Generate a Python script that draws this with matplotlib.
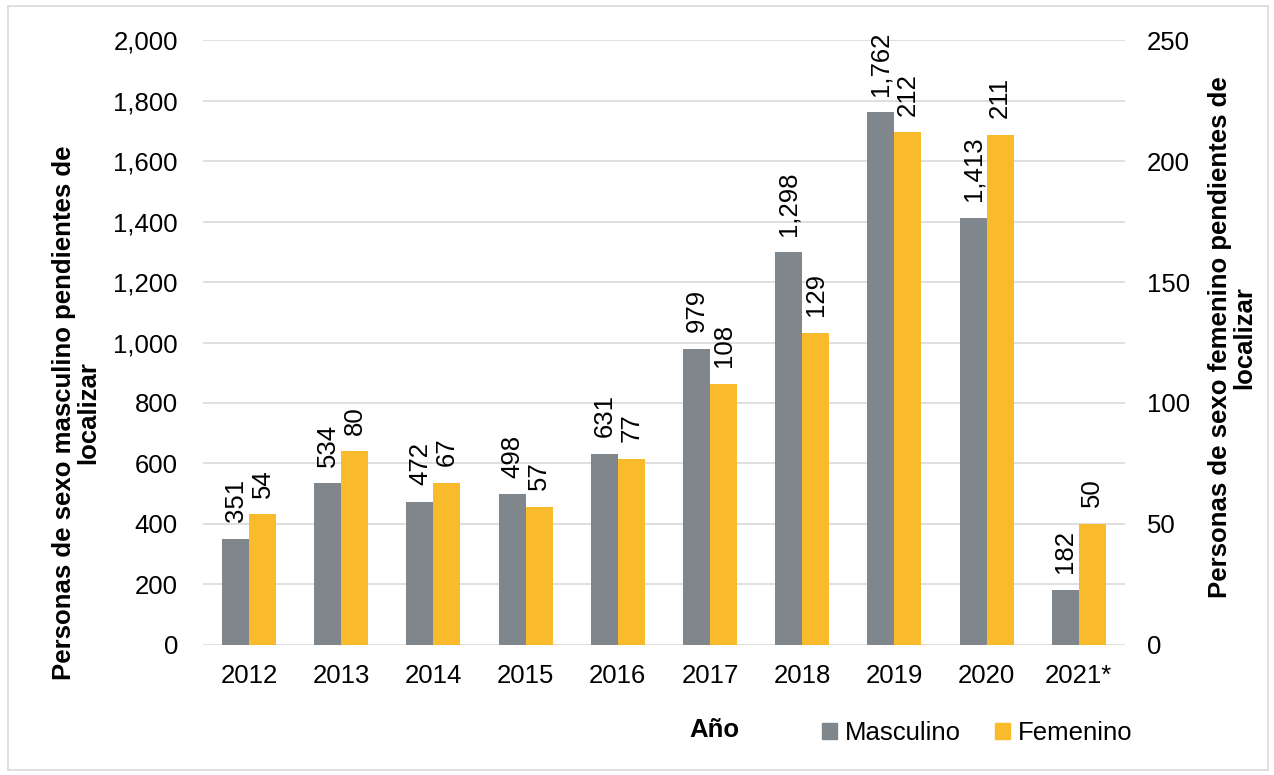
import matplotlib
matplotlib.use("Agg")
import matplotlib.pyplot as plt
import numpy as np
from matplotlib.patches import Rectangle, Patch

plt.rcParams['font.family'] = ['Liberation Sans', 'DejaVu Sans']

years = ["2012", "2013", "2014", "2015", "2016", "2017", "2018", "2019", "2020", "2021*"]
masculino = [351, 534, 472, 498, 631, 979, 1298, 1762, 1413, 182]
femenino = [54, 80, 67, 57, 77, 108, 129, 212, 211, 50]

GRAY = "#7F878C"
YELLOW = "#F9BB2B"
FS = 18.5

fig = plt.figure(figsize=(12.74, 7.75), dpi=100)
ax = fig.add_axes([0.1593, 0.168, 0.7237, 0.780])
ax2 = ax.twinx()

x = np.arange(len(years))
w = 0.293
ax.bar(x - w / 2, masculino, width=w, color=GRAY, zorder=3)
ax2.bar(x + w / 2, femenino, width=w, color=YELLOW, zorder=3)

ax.set_ylim(0, 2000)
ax2.set_ylim(0, 250)
ax.set_xlim(-0.5, len(years) - 0.5)
ax.set_yticks(np.arange(0, 2001, 200))
ax.set_yticklabels([f"{v:,}" for v in range(0, 2001, 200)])
ax2.set_yticks(np.arange(0, 251, 50))
ax.set_xticks(x)
ax.set_xticklabels(years)

ax.grid(axis='y', color='#D9D9D9', linewidth=1.2, zorder=0)
ax.set_axisbelow(True)
for a in (ax, ax2):
    for s in a.spines.values():
        s.set_visible(False)
    a.tick_params(length=0, labelsize=FS)
ax.tick_params(axis='y', pad=18)
ax.tick_params(axis='x', pad=14)
ax2.tick_params(axis='y', pad=16)

for xi, v in zip(x, masculino):
    ax.annotate(f"{v:,}", (xi - w / 2, v), xytext=(0, 12), textcoords='offset points',
                rotation=90, ha='center', va='bottom', fontsize=FS)
for xi, v in zip(x, femenino):
    ax2.annotate(f"{v}", (xi + w / 2, v), xytext=(0, 12), textcoords='offset points',
                 rotation=90, ha='center', va='bottom', fontsize=FS)

fig.text(0.060, 0.468, "Personas de sexo masculino pendientes de\nlocalizar", rotation=90,
         ha='center', va='center', fontsize=FS, fontweight='bold', multialignment='center',
         linespacing=1.0)
fig.text(0.967, 0.565, "Personas de sexo femenino pendientes de\nlocalizar", rotation=90,
         ha='center', va='center', fontsize=FS, fontweight='bold', multialignment='center',
         linespacing=1.0)
fig.text(0.561, 0.058, "Año", ha='center', va='center', fontsize=FS, fontweight='bold')

handles = [Patch(color=GRAY, label="Masculino"), Patch(color=YELLOW, label="Femenino")]
fig.legend(handles=handles, loc='center', bbox_to_anchor=(0.767, 0.054), ncol=2, frameon=False,
           fontsize=FS, handlelength=0.6, handleheight=0.6, handletextpad=0.3, columnspacing=1.3)

fig.patches.append(Rectangle((0.006, 0.007), 0.989, 0.985, transform=fig.transFigure,
                             fill=False, edgecolor='#D9D9D9', linewidth=1.2))

fig.savefig("out.png", dpi=100, facecolor='white')
